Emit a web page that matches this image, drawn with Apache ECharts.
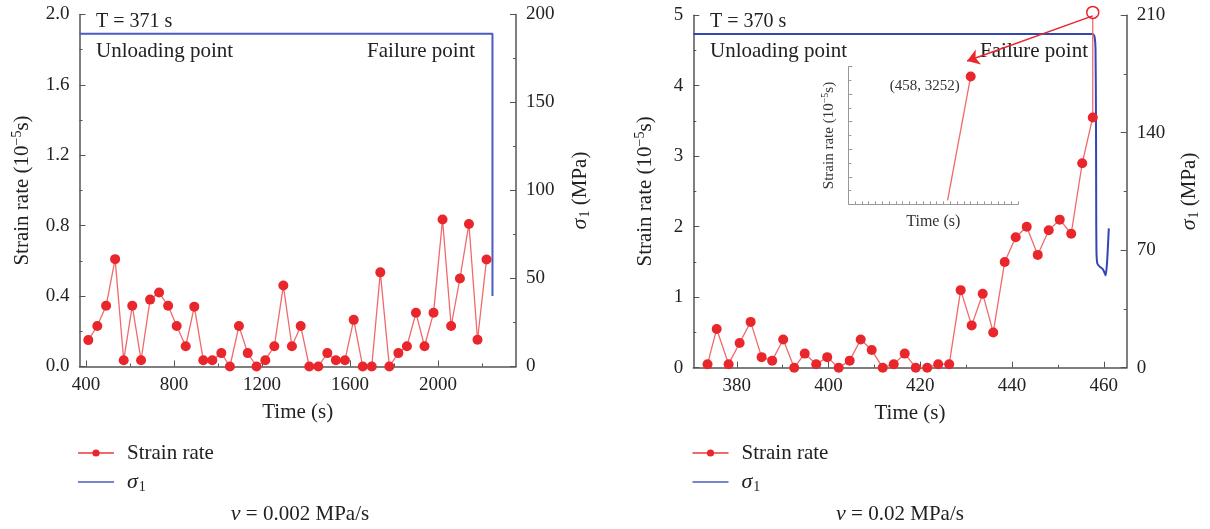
<!DOCTYPE html>
<html>
<head>
<meta charset="utf-8">
<script src="https://cdn.jsdelivr.net/npm/echarts@6/dist/echarts.min.js"></script>
<style>
  html, body { margin: 0; padding: 0; background: #fff; }
  #chart { width: 1210px; height: 529px; }
</style>
</head>
<body>
<div id="chart"></div>
<script>
// left panel (v = 0.002 MPa/s)
var leftTime = [410, 451, 491, 532, 571, 610, 650, 691, 732, 773, 812, 853, 892, 933, 974, 1015, 1054, 1095, 1135, 1175, 1215, 1256, 1297, 1336, 1376, 1415, 1456, 1497, 1536, 1577, 1617, 1658, 1699, 1738, 1779, 1820, 1859, 1900, 1939, 1980, 2021, 2060, 2100, 2141, 2180, 2221]
var leftRate = [0.15, 0.23, 0.345, 0.61, 0.036, 0.345, 0.036, 0.38, 0.42, 0.345, 0.23, 0.115, 0.34, 0.036, 0.036, 0.076, 0, 0.23, 0.076, 0, 0.036, 0.115, 0.46, 0.115, 0.23, 0, 0, 0.076, 0.036, 0.036, 0.265, 0, 0, 0.535, 0, 0.076, 0.115, 0.305, 0.115, 0.305, 0.835, 0.23, 0.5, 0.81, 0.152, 0.608]
var leftStressTime = [370, 2248, 2248]
var leftStress = [189, 189, 40]
var leftTicks = [400, 800, 1200, 1600, 2000]
var leftMinorTicks = [600, 1000, 1400, 1800, 2200]

// right panel (v = 0.02 MPa/s)
var rightTime = [373.6, 375.6, 378.2, 380.6, 383, 385.4, 387.7, 390.1, 392.5, 394.8, 397.3, 399.7, 402.2, 404.6, 407, 409.4, 411.8, 414.2, 416.6, 419, 421.5, 423.9, 426.3, 428.8, 431.2, 433.6, 435.9, 438.4, 440.8, 443.2, 445.6, 448, 450.4, 452.9, 455.3, 457.6]
var rightRate = [0.05, 0.55, 0.05, 0.35, 0.65, 0.15, 0.1, 0.4, 0, 0.2, 0.05, 0.15, 0, 0.1, 0.4, 0.25, 0, 0.05, 0.2, 0, 0, 0.05, 0.05, 1.1, 0.6, 1.05, 0.5, 1.5, 1.85, 2.0, 1.6, 1.95, 2.1, 1.9, 2.9, 3.55]
var offScalePoint = [457.6, 5.04]
var arrowFrom = [457.6, 4.99]
var arrowTo = [430.2, 4.35]
var rightStressTime = [370.5, 457.6, 458.0, 458.2, 458.3, 458.35, 458.4, 458.6, 459.2, 459.7, 460.1, 460.4, 460.7, 461.1]
var rightStress = [198.8, 198.8, 197, 190, 150, 100, 70, 62, 60, 59, 57, 55, 62, 83]
var rightTicks = [380, 400, 420, 440, 460]
var rightMinorTicks = [390, 410, 430, 450]

// inset
var insetTime = [454.6, 458]
var insetRate = [100, 3252]

var serif = 'Liberation Serif'
var axisColor = '#555'
var red = '#e8262b'
var redLine = '#f06a6c'

function zip(a, b) {
    return a.map(function (v, i) { return [v, b[i]] })
}

var nameRich = {
    a: { fontFamily: serif, fontSize: 21, color: '#222' },
    i: { fontFamily: serif, fontSize: 22, fontStyle: 'italic', color: '#222' },
    sub: { fontFamily: serif, fontSize: 14, color: '#222', padding: [10, 0, 0, 1] },
    sup: { fontFamily: serif, fontSize: 14, color: '#222', padding: [0, 0, 10, 0] }
}
var smallRich = {
    a: { fontFamily: serif, fontSize: 15, color: '#333' },
    sup: { fontFamily: serif, fontSize: 10, color: '#333', padding: [0, 0, 8, 0] }
}

function xMain(grid, min, max, labels) {
    return {
        type: 'value', gridIndex: grid, min: min, max: max, position: 'bottom',
        name: 'Time (s)', nameLocation: 'middle', nameGap: 35,
        nameTextStyle: { fontFamily: serif, fontSize: 21, color: '#222', verticalAlign: 'top' },
        axisLine: { show: true, onZero: false, lineStyle: { color: axisColor, width: 1.5 } },
        axisTick: { show: true, inside: true, length: 6, customValues: labels, lineStyle: { color: axisColor } },
        axisLabel: {
            customValues: labels, fontFamily: serif, fontSize: 19, color: '#222', margin: 9,
            formatter: function (v) { return String(v) }
        },
        splitLine: { show: false }
    }
}
function xMinor(grid, min, max, ticks) {
    return {
        type: 'value', gridIndex: grid, min: min, max: max, position: 'bottom',
        axisLine: { show: false },
        axisTick: { show: true, inside: true, length: 3, customValues: ticks, lineStyle: { color: axisColor } },
        axisLabel: { show: false },
        splitLine: { show: false }
    }
}
function yAxis(grid, pos, max, interval, name, gap, fmt) {
    return {
        type: 'value', gridIndex: grid, position: pos, min: 0, max: max, interval: interval,
        name: name, nameLocation: 'middle', nameRotate: 90, nameGap: gap,
        nameTextStyle: { rich: nameRich },
        axisLine: { show: true, onZero: false, lineStyle: { color: axisColor, width: 1.5 } },
        axisTick: { show: true, inside: true, length: 6, lineStyle: { color: axisColor } },
        minorTick: { show: true, splitNumber: 2, length: 3, lineStyle: { color: axisColor } },
        axisLabel: { fontFamily: serif, fontSize: 19, color: '#222', margin: 10, formatter: fmt },
        splitLine: { show: false },
        minorSplitLine: { show: false }
    }
}
function legendAt(left) {
    return {
        orient: 'vertical', left: left, top: 441, padding: 0,
        itemWidth: 36, itemHeight: 9, itemGap: 5,
        data: ['Strain rate', { name: 'σ1', icon: 'path://M0,0 L36,0 L36,1.6 L0,1.6 Z' }],
        selectedMode: false,
        textStyle: { fontFamily: serif, fontSize: 21, color: '#222', lineHeight: 24, padding: [0, 0, 0, 8], rich: nameRich },
        formatter: function (n) { return n === 'σ1' ? '{i|σ}{sub|1}' : n }
    }
}

var rateName = '{a|Strain rate (10}{sup|−5}{a|s)}'
var stressName = '{i|σ}{sub|1}{a| (MPa)}'

var chart = echarts.init(document.getElementById('chart'))
chart.setOption({
    backgroundColor: '#fff',
    animation: false,
    grid: [
        { left: 79.5, top: 14.5, width: 436.5, height: 352 },
        { left: 693.3, top: 15.2, width: 433.4, height: 352.5 },
        { left: 848.3, top: 66.7, width: 170, height: 137.6 }
    ],
    xAxis: [
        xMain(0, 370, 2355, leftTicks),
        xMinor(0, 370, 2355, leftMinorTicks),
        xMain(1, 370.5, 465, rightTicks),
        xMinor(1, 370.5, 465, rightMinorTicks),
        {
            type: 'value', gridIndex: 2, min: 440, max: 465, interval: 1,
            name: 'Time (s)', nameLocation: 'middle', nameGap: 9,
            nameTextStyle: { fontFamily: serif, fontSize: 16, color: '#333', verticalAlign: 'top' },
            axisLine: { show: true, onZero: false, lineStyle: { color: '#999', width: 1 } },
            axisTick: { show: true, inside: true, length: 3, lineStyle: { color: '#999' } },
            axisLabel: { show: false },
            splitLine: { show: false }
        }
    ],
    yAxis: [
        yAxis(0, 'left', 2.0, 0.4, rateName, 45, function (v) { return v.toFixed(1) }),
        yAxis(0, 'right', 200, 50, stressName, 52),
        yAxis(1, 'left', 5, 1, rateName, 36),
        yAxis(1, 'right', 210, 70, stressName, 51),
        {
            type: 'value', gridIndex: 2, min: 0, max: 3500, interval: 700,
            name: '{a|Strain rate (10}{sup|−5}{a|s)}', nameLocation: 'middle', nameRotate: 90, nameGap: 10,
            nameTextStyle: { rich: smallRich },
            axisLine: { show: true, onZero: false, lineStyle: { color: '#999', width: 1 } },
            axisTick: { show: true, inside: true, length: 4, lineStyle: { color: '#999' } },
            minorTick: { show: true, splitNumber: 2, length: 3, lineStyle: { color: '#999' } },
            axisLabel: { show: false },
            splitLine: { show: false },
            minorSplitLine: { show: false }
        }
    ],
    legend: [legendAt(77), legendAt(691.5)],
    series: [
        {
            name: 'σ1', type: 'line', xAxisIndex: 0, yAxisIndex: 1,
            data: zip(leftStressTime, leftStress),
            symbol: 'none', clip: false,
            lineStyle: { color: '#4a5cc0', width: 2 }, itemStyle: { color: '#4a5cc0' }
        },
        {
            name: 'Strain rate', type: 'line', xAxisIndex: 0, yAxisIndex: 0,
            data: zip(leftTime, leftRate),
            symbol: 'circle', symbolSize: 10, clip: false,
            lineStyle: { color: redLine, width: 1.3 }, itemStyle: { color: red }
        },
        {
            name: 'σ1', type: 'line', xAxisIndex: 2, yAxisIndex: 3,
            data: zip(rightStressTime, rightStress),
            symbol: 'none', clip: false, smooth: 0.2,
            lineStyle: { color: '#3246b4', width: 2 }, itemStyle: { color: '#3246b4' }
        },
        {
            name: 'Strain rate', type: 'line', xAxisIndex: 2, yAxisIndex: 2,
            data: zip(rightTime, rightRate).concat([{
                value: offScalePoint, symbolSize: 12,
                itemStyle: { color: '#fff', borderColor: red, borderWidth: 1.5 }
            }]),
            symbol: 'circle', symbolSize: 10, clip: false,
            lineStyle: { color: redLine, width: 1.3 }, itemStyle: { color: red },
            markLine: {
                silent: true, symbol: ['none', 'arrow'], symbolSize: 12,
                label: { show: false },
                lineStyle: { color: red, width: 1.5, type: 'solid' },
                data: [[{ coord: arrowFrom }, { coord: arrowTo }]]
            }
        },
        {
            name: 'inset', type: 'line', xAxisIndex: 4, yAxisIndex: 4,
            data: [
                { value: [insetTime[0], insetRate[0]], symbol: 'none' },
                {
                    value: [insetTime[1], insetRate[1]],
                    label: {
                        show: true, position: 'left', distance: 6, offset: [0, 10],
                        formatter: '(458, 3252)', fontFamily: serif, fontSize: 15, color: '#333'
                    }
                }
            ],
            symbol: 'circle', symbolSize: 10, clip: false,
            lineStyle: { color: redLine, width: 1.3 }, itemStyle: { color: red }
        }
    ],
    graphic: [
        { type: 'text', left: 96, top: 12, style: { text: 'T = 371 s', font: '20px "Liberation Serif"', fill: '#222' } },
        { type: 'text', left: 96, top: 41, style: { text: 'Unloading point', font: '21px "Liberation Serif"', fill: '#222' } },
        { type: 'text', right: 735, top: 41, style: { text: 'Failure point', font: '21px "Liberation Serif"', fill: '#222' } },
        { type: 'text', left: 710, top: 12, style: { text: 'T = 370 s', font: '20px "Liberation Serif"', fill: '#222' } },
        { type: 'text', left: 710, top: 41, style: { text: 'Unloading point', font: '21px "Liberation Serif"', fill: '#222' } },
        { type: 'text', right: 122, top: 41, style: { text: 'Failure point', font: '21px "Liberation Serif"', fill: '#222' } },
        {
            type: 'text', x: 300, y: 514,
            style: {
                text: '{i|ν} = 0.002 MPa/s', align: 'center', verticalAlign: 'middle',
                font: '21px "Liberation Serif"', fill: '#222',
                rich: { i: { fontStyle: 'italic', fontSize: 22, fontFamily: serif } }
            }
        },
        {
            type: 'text', x: 900, y: 514,
            style: {
                text: '{i|ν} = 0.02 MPa/s', align: 'center', verticalAlign: 'middle',
                font: '21px "Liberation Serif"', fill: '#222',
                rich: { i: { fontStyle: 'italic', fontSize: 22, fontFamily: serif } }
            }
        }
    ]
})
</script>
</body>
</html>
